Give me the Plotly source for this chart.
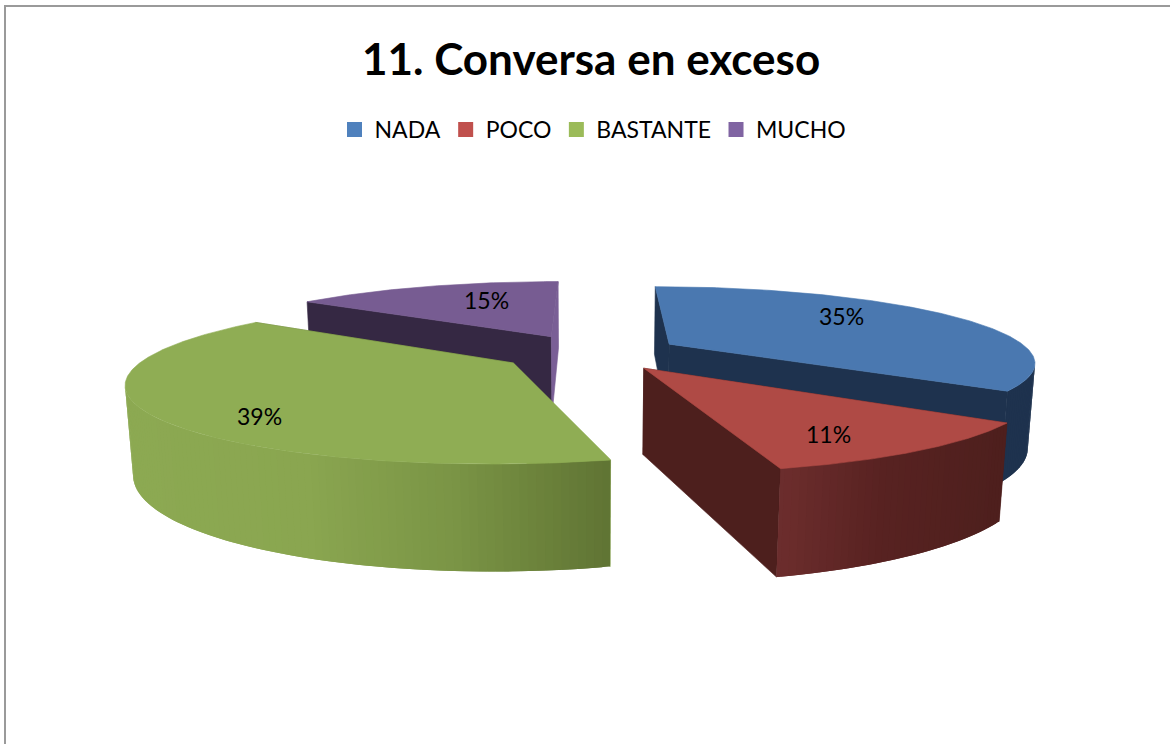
import math
import plotly.graph_objects as go

# Survey shares for the question, in percent
categories = ["NADA", "POCO", "BASTANTE", "MUCHO"]
shares = [35, 11, 39, 15]
chart_title = "11. Conversa en exceso"

legend_colors = ["#4F81BD", "#C0504D", "#9BBB59", "#8064A2"]
top_colors = ["#4A78B0", "#AF4A45", "#8FAD54", "#775C92"]
start_wall_colors = ["#1E324E", "#4D1F1D", "#8FAD54", "#352843"]
end_wall_colors = ["#1E324E", "#4D1F1D", "#5F7333", "#7A5F96"]

# Rim shading: (screen x, colour) stops per slice
rim_stops = [
    [(600, (30, 50, 78)), (1040, (30, 50, 78))],
    [(770, (110, 46, 46)), (880, (88, 34, 33)), (1010, (77, 31, 29))],
    [(125, (140, 169, 82)), (300, (138, 166, 80)), (450, (122, 148, 69)), (610, (95, 115, 51))],
    [(300, (53, 40, 67)), (560, (53, 40, 67))],
]

# Label placement inside each slice: angle offset from its middle (deg), radius fraction
label_placement = [(-12.7, 0.724), (4.3, 0.78), (-11.3, 0.805), (7.4, 0.683)]

# Projection of the tilted, exploded pie
CX, CY = 590.5, 352.3
SCALE_X, SCALE_Y = 362.0, 73.4
PERSPECTIVE = 0.22
EXPLODE = 0.25
DEPTH_W, DEPTH_Y = 0.016, 84.0

STRIP_WIDTH = 2    # rim sub-steps per shaded band
STRIP_OVERLAP = 2  # sub-steps each band runs under the next one


def project(px, py, bottom=False):
    w = 1 - PERSPECTIVE * py + (DEPTH_W if bottom else 0)
    sy = SCALE_Y * py + (DEPTH_Y if bottom else 0)
    return CX + SCALE_X * px / w, CY + sy / w


def polar(angle):
    rad = math.radians(angle)
    return math.sin(rad), -math.cos(rad)


def mix(stops, x):
    if x <= stops[0][0]:
        c = stops[0][1]
    elif x >= stops[-1][0]:
        c = stops[-1][1]
    else:
        for (x0, c0), (x1, c1) in zip(stops, stops[1:]):
            if x0 <= x <= x1:
                t = (x - x0) / (x1 - x0)
                c = tuple(a + (b - a) * t for a, b in zip(c0, c1))
                break
    return "rgb(%d,%d,%d)" % tuple(round(v) for v in c)


def polygon(fig, pts, color, width=0.6):
    xs = [p[0] for p in pts] + [pts[0][0]]
    ys = [p[1] for p in pts] + [pts[0][1]]
    fig.add_trace(go.Scatter(
        x=xs, y=ys, mode="lines", fill="toself", fillcolor=color,
        line=dict(color=color, width=width), hoverinfo="skip", showlegend=False,
    ))


fig = go.Figure()

total = sum(shares)
spans = []
acc = 0.0
for value in shares:
    a0 = acc / total * 360
    acc += value
    spans.append((a0, acc / total * 360))

# Painter's order: rear slices first
annotations = []
for i in [3, 0, 2, 1]:
    a0, a1 = spans[i]
    mid = (a0 + a1) / 2
    ox, oy = polar(mid)
    ox, oy = ox * EXPLODE, oy * EXPLODE
    steps = max(24, int((a1 - a0) * 2))
    angles = [a0 + (a1 - a0) * s / steps for s in range(steps + 1)]
    rim = [(ox + polar(a)[0], oy + polar(a)[1]) for a in angles]

    # Radial cut faces
    s_pt, e_pt = rim[0], rim[-1]
    polygon(fig, [project(ox, oy), project(*s_pt), project(*s_pt, True), project(ox, oy, True)], start_wall_colors[i])
    polygon(fig, [project(ox, oy), project(*e_pt), project(*e_pt, True), project(ox, oy, True)], end_wall_colors[i])

    # Outer rim as shaded bands; only the part turned towards the viewer
    for s in range(0, steps, STRIP_WIDTH):
        band = rim[s:min(s + STRIP_WIDTH + STRIP_OVERLAP, steps) + 1]
        top_edge = [project(*p) for p in band]
        if top_edge[-1][0] >= top_edge[0][0]:
            continue
        bottom_edge = [project(*p, True) for p in reversed(band)]
        polygon(fig, top_edge + bottom_edge, mix(rim_stops[i], (top_edge[0][0] + top_edge[-1][0]) / 2), width=0)

    # Top face
    polygon(fig, [project(ox, oy)] + [project(*p) for p in rim], top_colors[i])

    offset, frac = label_placement[i]
    lx, ly = polar(mid + offset)
    sx, sy = project(ox + lx * frac, oy + ly * frac)
    annotations.append(dict(
        x=sx, y=sy, xref="x", yref="y", text=f"{shares[i]}%", showarrow=False,
        font=dict(family="Lato", size=23, color="#000000"),
        xanchor="center", yanchor="middle", yshift=-1.5,
    ))

# Legend entries
for name, color in zip(categories, legend_colors):
    fig.add_trace(go.Scatter(
        x=[None], y=[None], mode="markers", name=name,
        marker=dict(symbol="square", size=15, color=color),
    ))

annotations.append(dict(
    x=591, y=58, xref="x", yref="y", text=f"<b>{chart_title}</b>", showarrow=False,
    font=dict(family="Lato", size=44, color="#000000"),
    xanchor="center", yanchor="middle",
))

fig.update_layout(
    width=1170, height=744, autosize=False,
    margin=dict(l=0, r=0, t=0, b=0),
    paper_bgcolor="#FFFFFF", plot_bgcolor="#FFFFFF",
    xaxis=dict(range=[0, 1170], visible=False, fixedrange=True),
    yaxis=dict(range=[744, 0], visible=False, fixedrange=True),
    annotations=annotations,
    legend=dict(
        orientation="h", x=593 / 1170, xanchor="center", y=1 - 108 / 744, yanchor="top",
        font=dict(family="Lato", size=23, color="#000000"),
        itemwidth=30, traceorder="normal", bgcolor="rgba(0,0,0,0)",
    ),
    shapes=[
        dict(type="line", xref="x", yref="y", x0=5, x1=5, y0=6, y1=744, line=dict(color="#9A9A9A", width=2)),
        dict(type="line", xref="x", yref="y", x0=4, x1=1170, y0=6, y1=6, line=dict(color="#9A9A9A", width=2)),
    ],
)

fig.write_html("out.html")
